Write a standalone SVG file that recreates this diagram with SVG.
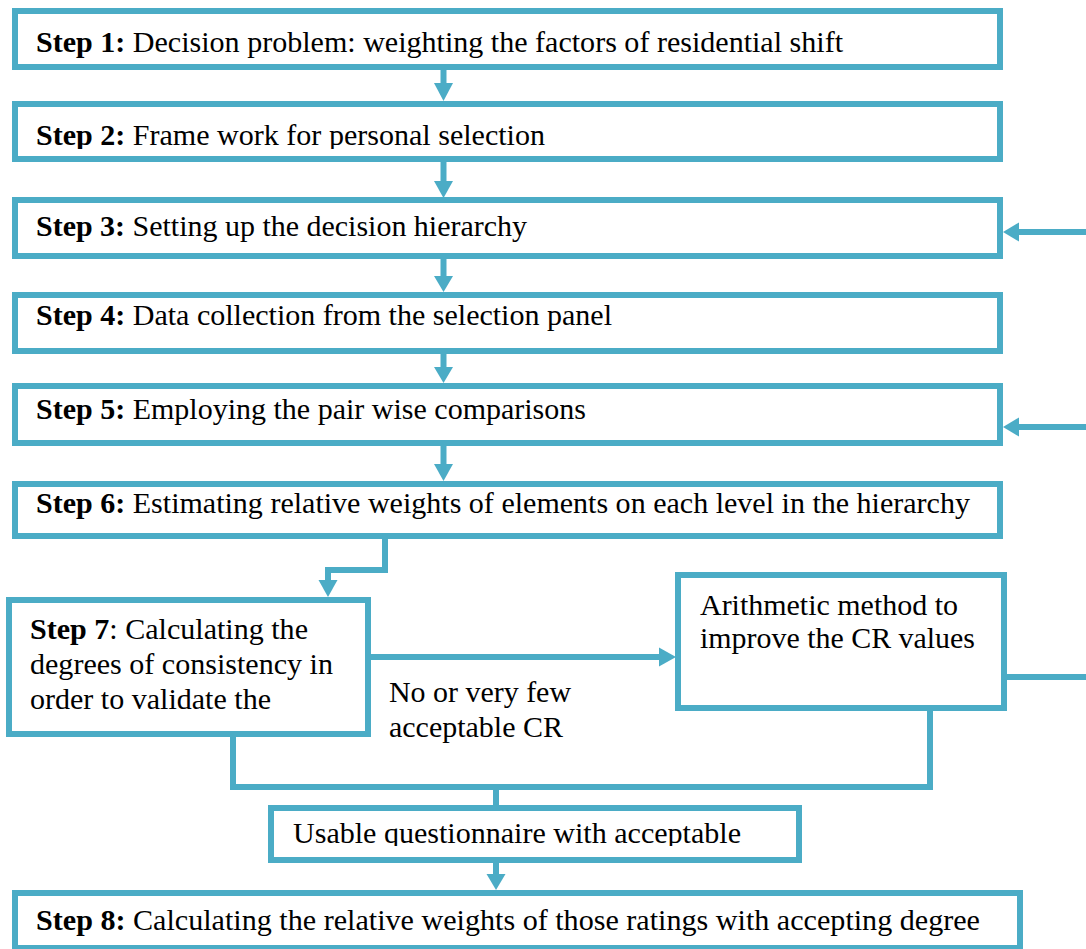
<svg xmlns="http://www.w3.org/2000/svg" width="1086" height="949" viewBox="0 0 1086 949">
<style>
.box{fill:#fff;stroke:#4BACC6;stroke-width:6}
.ln{fill:none;stroke:#4BACC6;stroke-width:6}
.hd{fill:#4BACC6;stroke:none}
.b{font-weight:bold}
</style>
<defs>
<clipPath id="c2"><rect x="0" y="100" width="1086" height="49"/></clipPath>
<clipPath id="c5"><rect x="0" y="380" width="1086" height="47"/></clipPath>
<clipPath id="c6"><rect x="0" y="480" width="1086" height="40"/></clipPath>
<clipPath id="cu"><rect x="0" y="800" width="1086" height="46"/></clipPath>
<clipPath id="c8"><rect x="0" y="890" width="1086" height="47"/></clipPath>
</defs>
<g id="connectors">
<line class="ln" x1="443.5" y1="70" x2="443.5" y2="85"/><polygon class="hd" points="434,83 453,83 443.5,101"/>
<line class="ln" x1="443.5" y1="162" x2="443.5" y2="183"/><polygon class="hd" points="434,181 453,181 443.5,198"/>
<line class="ln" x1="443.5" y1="259" x2="443.5" y2="278"/><polygon class="hd" points="434,276 453,276 443.5,292"/>
<line class="ln" x1="443.5" y1="354" x2="443.5" y2="369"/><polygon class="hd" points="434,367 453,367 443.5,383"/>
<line class="ln" x1="443.5" y1="446" x2="443.5" y2="466"/><polygon class="hd" points="434,464 453,464 443.5,481"/>
<polyline class="ln" points="385,539 385,570 328,570 328,582"/><polygon class="hd" points="318.5,580 337.5,580 328,597"/>
<line class="ln" x1="371" y1="657" x2="661" y2="657"/><polygon class="hd" points="659,647.5 659,666.5 676,657"/>
<line class="ln" x1="1086" y1="232" x2="1017" y2="232"/><polygon class="hd" points="1019,222.5 1019,241.5 1003,232"/>
<line class="ln" x1="1086" y1="427" x2="1017" y2="427"/><polygon class="hd" points="1019,417.5 1019,436.5 1003,427"/>
<line class="ln" x1="1007" y1="677" x2="1086" y2="677"/>
<polyline class="ln" points="233,737 233,787 930,787 930,711"/>
<line class="ln" x1="496" y1="787" x2="496" y2="805"/>
<line class="ln" x1="496" y1="863" x2="496" y2="876"/><polygon class="hd" points="486.5,874 505.5,874 496,890"/>
</g>
<g font-family="Liberation Serif" font-size="30" fill="#000">
<g id="step1"><rect class="box" x="15" y="11" width="985" height="56"/><text x="36" y="52" textLength="807" lengthAdjust="spacingAndGlyphs"><tspan class="b">Step 1:</tspan> Decision problem: weighting the factors of residential shift</text></g>
<g id="step2"><rect class="box" x="15" y="104" width="985" height="55"/><text x="36" y="145" clip-path="url(#c2)" textLength="509" lengthAdjust="spacingAndGlyphs"><tspan class="b">Step 2:</tspan> Frame work for personal selection</text></g>
<g id="step3"><rect class="box" x="15" y="200" width="985" height="56"/><text x="36" y="236" textLength="491" lengthAdjust="spacingAndGlyphs"><tspan class="b">Step 3:</tspan> Setting up the decision hierarchy</text></g>
<g id="step4"><rect class="box" x="15" y="295" width="985" height="56"/><text x="36" y="325" textLength="576" lengthAdjust="spacingAndGlyphs"><tspan class="b">Step 4:</tspan> Data collection from the selection panel</text></g>
<g id="step5"><rect class="box" x="15" y="386" width="985" height="57"/><text x="36" y="419" clip-path="url(#c5)" textLength="550" lengthAdjust="spacingAndGlyphs"><tspan class="b">Step 5:</tspan> Employing the pair wise comparisons</text></g>
<g id="step6"><rect class="box" x="15" y="484" width="985" height="52"/><text x="36" y="513" clip-path="url(#c6)" textLength="934" lengthAdjust="spacingAndGlyphs"><tspan class="b">Step 6:</tspan> Estimating relative weights of elements on each level in the hierarchy</text></g>
<g id="step7"><rect class="box" x="9" y="600" width="359" height="134"/>
<text x="30" y="639" textLength="278" lengthAdjust="spacingAndGlyphs"><tspan class="b">Step 7</tspan>: Calculating the</text>
<text x="30" y="674" textLength="303" lengthAdjust="spacingAndGlyphs">degrees of consistency in</text>
<text x="30" y="709" textLength="241" lengthAdjust="spacingAndGlyphs">order to validate the</text></g>
<g id="arith"><rect class="box" x="678" y="575" width="326" height="133"/>
<text x="700" y="615" textLength="258" lengthAdjust="spacingAndGlyphs">Arithmetic method to</text>
<text x="700" y="648" textLength="275" lengthAdjust="spacingAndGlyphs">improve the CR values</text></g>
<g id="label-no"><text x="389" y="702" textLength="182" lengthAdjust="spacingAndGlyphs">No or very few</text><text x="389" y="737" textLength="174" lengthAdjust="spacingAndGlyphs">acceptable CR</text></g>
<g id="usable"><rect class="box" x="271" y="808" width="528" height="52"/><text x="293" y="843" clip-path="url(#cu)" textLength="448" lengthAdjust="spacingAndGlyphs">Usable questionnaire with acceptable</text></g>
<g id="step8"><rect class="box" x="15" y="893" width="1005" height="55"/><text x="36" y="930" clip-path="url(#c8)" textLength="944" lengthAdjust="spacingAndGlyphs"><tspan class="b">Step 8:</tspan> Calculating the relative weights of those ratings with accepting degree</text></g>
</g>
</svg>
